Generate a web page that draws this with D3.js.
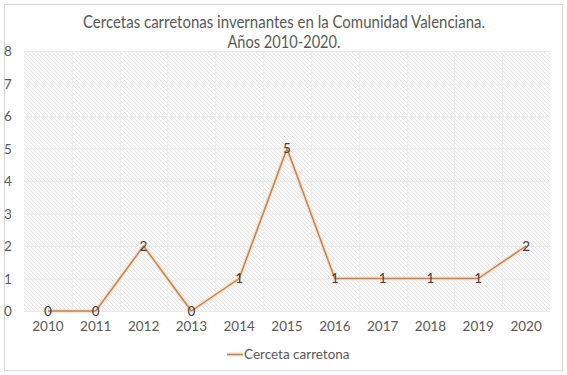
<!DOCTYPE html>
<html><head><meta charset="utf-8">
<script src="https://cdn.jsdelivr.net/npm/d3@7"></script>
<style>body{margin:0;background:#fff}svg{display:block}</style>
</head><body><svg id="c" width="567" height="375"></svg>
<script>
const years = ["2010","2011","2012","2013","2014","2015","2016","2017","2018","2019","2020"];
const values = [0,0,2,0,1,5,1,1,1,1,2];
const yTicks = [0,1,2,3,4,5,6,7,8];
const titleLines = ["Cercetas carretonas invernantes en la Comunidad Valenciana.","Años 2010-2020."];
const seriesName = "Cerceta carretona";

const svg = d3.select("#c");
const font = "Lato, 'Open Sans', sans-serif";
const m = {l:24, r:550, t:51, b:311};
svg.append("rect").attr("x",4.5).attr("y",4.5).attr("width",558).attr("height",366)
  .attr("fill","#fff").attr("stroke","#d9d9d9");

const defs = svg.append("defs");
const pat = defs.append("pattern").attr("id","hatch").attr("patternUnits","userSpaceOnUse")
  .attr("width",4).attr("height",4);
pat.append("rect").attr("width",4).attr("height",4).attr("fill","#fbfbfb");
pat.append("path").attr("d","M-1,-1 L5,5 M-1,3 L1,5 M3,-1 L5,1").attr("stroke","#e0e0e0").attr("stroke-width",0.9);

const x = d3.scaleBand().domain(years).range([m.l,m.r]);
const y = d3.scaleLinear().domain([0,8]).range([m.b,m.t]);

svg.append("rect").attr("x",m.l).attr("y",m.t).attr("width",m.r-m.l).attr("height",m.b-m.t).attr("fill","url(#hatch)");

// gridlines
const g = svg.append("g");
g.selectAll("line.h").data(yTicks).join("line").attr("x1",m.l).attr("x2",m.r)
  .attr("y1",d=>y(d)+0.5).attr("y2",d=>y(d)+0.5).attr("stroke","#ebebeb");
g.selectAll("line.v").data(years.slice(1)).join("line").attr("y1",m.t).attr("y2",m.b)
  .attr("x1",d=>Math.round(x(d))+0.5).attr("x2",d=>Math.round(x(d))+0.5).attr("stroke","#ededed");

// y axis labels
const yAxis = d3.axisLeft(y).tickValues(yTicks).tickSize(0).tickPadding(0);
const ya = svg.append("g").attr("transform","translate(12,0)").call(yAxis);
ya.select(".domain").remove();
ya.selectAll("text").attr("font-family",font).attr("font-size",13.5).attr("fill","#595959").attr("text-anchor","middle").attr("dy","0.35em").attr("dx",-4);

// x axis labels
const xAxis = d3.axisBottom(x).tickSize(0).tickPadding(0);
const xa = svg.append("g").attr("transform",`translate(0,${m.b+10})`).call(xAxis);
xa.select(".domain").remove();
xa.selectAll("text").attr("font-family",font).attr("font-size",13.5).attr("fill","#595959").attr("dy","0.71em");

const cx = d => x(d)+x.bandwidth()/2;
const line = d3.line().x((d,i)=>cx(years[i])).y(d=>y(d));
svg.append("path").datum(values).attr("d",line).attr("fill","none").attr("stroke","#fbe2cc").attr("stroke-width",4).attr("stroke-linejoin","round");
svg.append("path").datum(values).attr("d",line).attr("fill","none").attr("stroke","#bd8558").attr("stroke-width",1.5).attr("stroke-linejoin","round");

svg.selectAll("text.lbl").data(values).join("text").attr("class","lbl")
  .attr("x",(d,i)=>cx(years[i])).attr("y",d=>y(d)).attr("dy","0.35em")
  .attr("text-anchor","middle").attr("font-family",font).attr("font-size",13.5).attr("fill","#404040").text(d=>d);

// title
const tw = [402, 113];
svg.selectAll("text.title").data(titleLines).join("text").attr("class","title")
  .attr("x",284).attr("y",(d,i)=>22+i*20).attr("dy","0.35em").attr("text-anchor","middle")
  .attr("textLength",(d,i)=>tw[i]).attr("lengthAdjust","spacingAndGlyphs")
  .attr("font-family",font).attr("font-size",16.5).attr("fill","#595959").text(d=>d);

// legend
svg.append("line").attr("x1",227).attr("x2",243).attr("y1",354.5).attr("y2",354.5).attr("stroke","#fbe2cc").attr("stroke-width",4);
svg.append("line").attr("x1",227).attr("x2",243).attr("y1",354.5).attr("y2",354.5).attr("stroke","#bd8558").attr("stroke-width",1.5);
svg.append("text").attr("x",244).attr("y",354).attr("dy","0.35em").attr("font-family",font).attr("font-size",13.5).attr("fill","#595959").text(seriesName);
</script></body></html>
